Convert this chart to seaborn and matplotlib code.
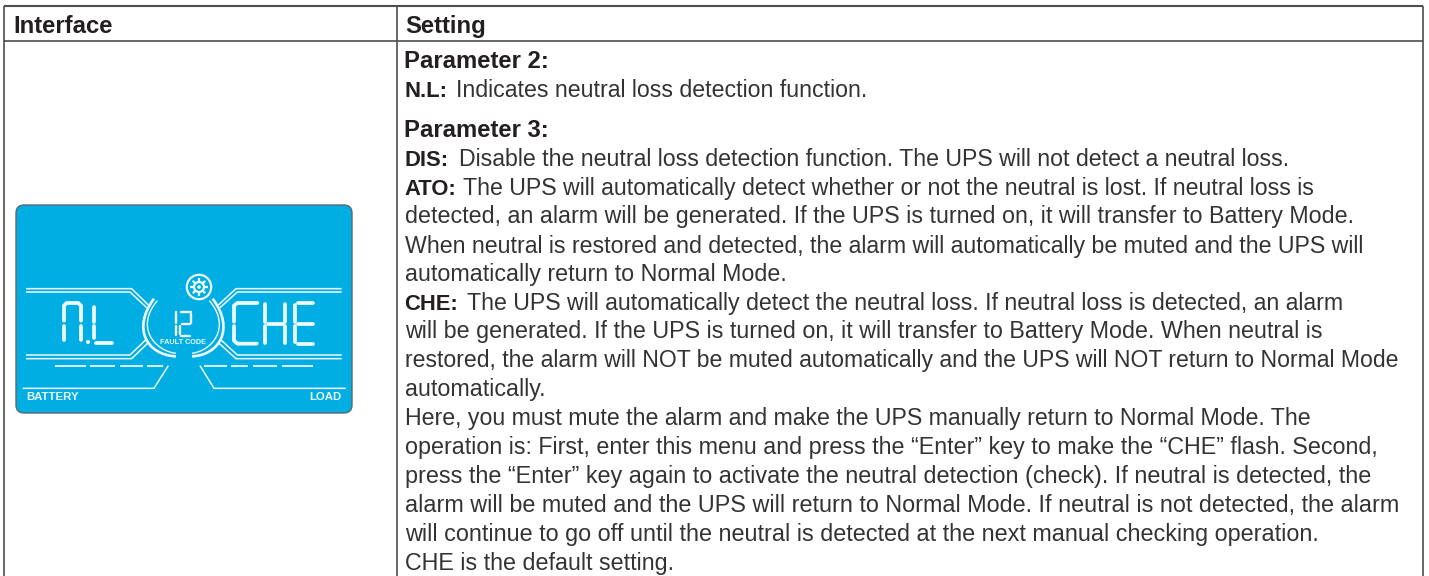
import numpy as np
import pandas as pd
import seaborn as sns
import matplotlib.pyplot as plt
from matplotlib.patches import FancyBboxPatch, PathPatch, Circle
from matplotlib.path import Path

# table text
header_left = 'Interface'
header_right = 'Setting'
bold_heads = ['Parameter 2:', 'Parameter 3:']
head_ys = [68, 137]
body_prefix = ['N.L:', 'DIS:', 'ATO:', '', '', '', 'CHE:', '', '', '', '', '', '', '', '', '']
body_text = [
    'Indicates neutral loss detection function.',
    'Disable the neutral loss detection function. The UPS will not detect a neutral loss.',
    'The UPS will automatically detect whether or not the neutral is lost. If neutral loss is',
    'detected, an alarm will be generated. If the UPS is turned on, it will transfer to Battery Mode.',
    'When neutral is restored and detected, the alarm will automatically be muted and the UPS will',
    'automatically return to Normal Mode.',
    'The UPS will automatically detect the neutral loss. If neutral loss is detected, an alarm',
    'will be generated. If the UPS is turned on, it will transfer to Battery Mode. When neutral is',
    'restored, the alarm will NOT be muted automatically and the UPS will NOT return to Normal Mode',
    'automatically.',
    'Here, you must mute the alarm and make the UPS manually return to Normal Mode. The',
    'operation is: First, enter this menu and press the \u201cEnter\u201d key to make the \u201cCHE\u201d flash. Second,',
    'press the \u201cEnter\u201d key again to activate the neutral detection (check). If neutral is detected, the',
    'alarm will be muted and the UPS will return to Normal Mode. If neutral is not detected, the alarm',
    'will continue to go off until the neutral is detected at the next manual checking operation.',
    'CHE is the default setting.',
]
body_ys = [97, 166, 195, 223, 253, 281, 310, 338, 367, 396, 425, 454, 483, 512, 541, 570]
body_starts = [456, 459, 463, 405, 405, 405, 467, 405, 405, 405, 405, 405, 405, 405, 405, 405]
body_ends = [868, 1292, 1316, 1354, 1368, None, 1345, 1320, 1399, None, 1313, 1379, 1371, 1398, 1318, None]

# table rules in pixels
rule_xs = [[4, 1423], [4, 1423], [4.5, 4.5], [397, 397], [1423, 1423]]
rule_ys = [[6, 6], [40.5, 40.5], [6, 576], [6, 576], [6, 576]]
rule_widths = [1.5, 1.2, 1.2, 1.2, 1.2]

# lcd strokes, in 3x crop pixels
lcd_frames = [
    ([78, 395, 445], [296, 296, 345]), ([78, 390, 440], [306, 306, 353]),
    ([78, 395, 445], [506, 506, 458]), ([78, 390, 440], [495, 495, 447]),
    ([1025, 708, 655], [296, 296, 345]), ([1025, 712, 660], [306, 306, 353]),
    ([1025, 708, 655], [506, 506, 458]), ([1025, 712, 660], [495, 495, 447]),
    ([68, 462, 505], [595, 595, 527]), ([1037, 642, 600], [595, 595, 527]),
]
lcd_dashes = [
    ([165, 258], [527, 527]), ([270, 345], [527, 527]), ([360, 430], [527, 527]), ([440, 490], [527, 527]),
    ([612, 680], [527, 527]), ([692, 745], [527, 527]), ([760, 830], [527, 527]), ([845, 940], [527, 527]),
]
lcd_segments = [
    # N
    ([192, 192, 200, 235, 243, 243], [392, 347, 339, 339, 347, 392]), ([192, 192], [408, 450]), ([243, 243], [408, 450]),
    # L
    ([282, 282], [352, 395]), ([282, 282], [408, 445]), ([288, 335], [458, 458]),
    # C
    ([702, 702, 712, 772], [395, 347, 339, 339]), ([702, 702, 712, 770], [408, 452, 461, 461]),
    # H
    ([796, 796], [342, 395]), ([796, 796], [408, 458]), ([856, 856], [342, 395]), ([856, 856], [408, 458]),
    ([804, 848], [401, 401]),
    # E
    ([885, 885], [345, 395]), ([885, 885], [408, 455]), ([893, 940], [340, 340]), ([893, 938], [401, 401]),
    ([893, 940], [461, 461]),
]
lcd_small = [
    ([527, 527], [366, 398]), ([527, 527], [407, 435]),
    ([542, 572], [367, 367]), ([574, 574], [372, 398]), ([546, 570], [402, 402]),
    ([540, 540], [408, 432]), ([544, 570], [437, 437]),
]
lcd_bg = '#00aee3'
lcd_ink = '#eefaff'
text_col = '#333333'
bold_col = '#231f20'
rule_col = '#4d4d4f'
font = 'Liberation Sans'
font_size = 16.75
bold_size = 17.2
prefix_size = 15.8

sns.set_theme(style='white')
plt.rcParams['font.family'] = [font, 'DejaVu Sans']

fig = plt.figure(figsize=(14.29, 5.76), dpi=100)
ax = fig.add_axes([0, 0, 1, 1])
ax.set_xlim(0, 1429)
ax.set_ylim(576, 0)
ax.axis('off')


def stroke(xs, ys, lw, color=lcd_ink, cap='butt'):
    frame = pd.DataFrame({'x': xs, 'y': ys, 'order': range(len(xs))})
    sns.lineplot(data=frame, x='x', y='y', sort=False, estimator=None, color=color,
                 linewidth=lw, ax=ax, legend=False, solid_capstyle=cap, solid_joinstyle='round')


def crop(xs, ys):
    return [v / 3 for v in xs], [190 + v / 3 for v in ys]


# table
for xs, ys, lw in zip(rule_xs, rule_ys, rule_widths):
    stroke(xs, ys, lw, rule_col)

ax.text(13, 33, header_left, fontsize=bold_size, fontweight='bold', color=bold_col, va='baseline')
ax.text(405, 33, header_right, fontsize=bold_size, fontweight='bold', color=bold_col, va='baseline')
for head, y in zip(bold_heads, head_ys):
    ax.text(404.5, y, head, fontsize=bold_size, fontweight='bold', color=bold_col, va='baseline')

# each line is fitted to the width it has in the reference
renderer = fig.canvas.get_renderer()
for prefix, line, y, start, end in zip(body_prefix, body_text, body_ys, body_starts, body_ends):
    if prefix:
        ax.text(404.5, y, prefix, fontsize=prefix_size, fontweight='bold', color=bold_col, va='baseline')
    t = ax.text(start, y, line, fontsize=font_size, color=text_col, va='baseline')
    if end is not None:
        t.set_fontsize(font_size * (end - start) / t.get_window_extent(renderer).width)

# lcd panel
panel = FancyBboxPatch((20, 209), 328, 200, boxstyle='round,pad=4,rounding_size=8', fc=lcd_bg,
                       ec='#5a6a72', lw=1.0, zorder=1)
ax.add_patch(panel)

for xs, ys in lcd_frames:
    stroke(*crop(xs, ys), 1.1)
for xs, ys in lcd_dashes:
    stroke(*crop(xs, ys), 1.3)
for xs, ys in lcd_segments:
    stroke(*crop(xs, ys), 2.7, cap='round')
for xs, ys in lcd_small:
    stroke(*crop(xs, ys), 1.7, cap='round')

# brackets round the fault code
codes = [Path.MOVETO, Path.CURVE4, Path.CURVE4, Path.CURVE4]
arc_sets = [
    ([472, 405, 462, 528], [332, 410, 482, 490], 1.0),
    ([462, 395, 440, 528], [326, 415, 495, 499], 1.9),
    ([628, 695, 638, 576], [332, 410, 482, 490], 1.0),
    ([638, 705, 660, 576], [326, 415, 495, 499], 1.9),
]
for xs, ys, lw in arc_sets:
    px, py = crop(xs, ys)
    ax.add_patch(PathPatch(Path(list(zip(px, py)), codes), fc='none', ec=lcd_ink, lw=lw, zorder=4))

# gear icon
gx, gy = 199, 287
ax.add_patch(Circle((gx, gy), 12.2, fc='none', ec=lcd_ink, lw=1.6, zorder=4))
ax.add_patch(Circle((gx, gy), 5.0, fc='none', ec=lcd_ink, lw=1.6, zorder=4))
ax.add_patch(Circle((gx, gy), 1.8, fc=lcd_ink, ec='none', zorder=4))
for a in np.deg2rad(np.arange(0, 360, 45)):
    stroke([gx + 5.5 * np.cos(a), gx + 8.8 * np.cos(a)], [gy + 5.5 * np.sin(a), gy + 8.8 * np.sin(a)], 1.6)

# decimal point of N.L
ax.add_patch(Circle((88, 342), 2.0, fc=lcd_ink, ec='none', zorder=4))

ax.text(183, 343, 'FAULT CODE', fontsize=5.2, fontweight='bold', color=lcd_ink, ha='center', va='center', zorder=5)
ax.text(26, 397, 'BATTERY', fontsize=8.2, fontweight='bold', color=lcd_ink, va='center', zorder=5)
ax.text(342, 397, 'LOAD', fontsize=8.2, fontweight='bold', color=lcd_ink, ha='right', va='center', zorder=5)

for line in ax.lines:
    line.set_zorder(4)
for line in ax.lines[:5]:
    line.set_zorder(2)

fig.savefig('out.png', dpi=100, facecolor='white')
